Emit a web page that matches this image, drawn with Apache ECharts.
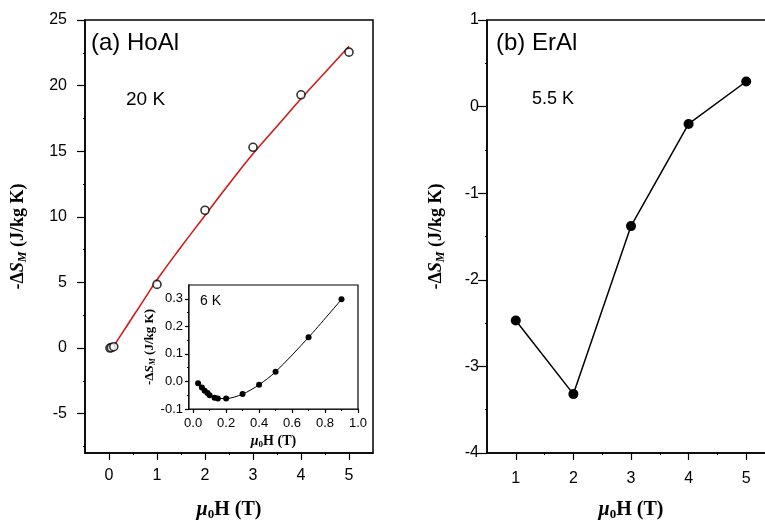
<!DOCTYPE html>
<html>
<head>
<meta charset="utf-8">
<script src="https://cdn.jsdelivr.net/npm/echarts@6/dist/echarts.min.js"></script>
<style>
    html, body { margin: 0; padding: 0; background: #fff; }
    #chart { width: 765px; height: 522px; }
</style>
</head>
<body>
<div id="chart"></div>
<script>
// (a) HoAl, 20 K
let hoX = [0.02, 0.05, 0.1, 1, 2, 3, 4, 5];
let hoY = [0, 0.03, 0.1, 4.85, 10.5, 15.3, 19.3, 22.55];
let fitX = [0.04, 0.25, 0.5, 0.75, 1, 1.5, 2, 2.5, 3, 3.5, 4, 4.5, 5];
let fitY = [-0.2, 1.0, 2.4, 3.8, 5.2, 7.7, 10.1, 12.5, 14.8, 16.9, 19.0, 21.0, 23.0];

// inset, 6 K
let insetX = [0.03, 0.053, 0.07, 0.087, 0.1, 0.13, 0.15, 0.2, 0.3, 0.4, 0.5, 0.7, 0.9];
let insetY = [-0.007, -0.022, -0.034, -0.042, -0.05, -0.059, -0.062, -0.062, -0.046, -0.012, 0.035, 0.16, 0.298];

// (b) ErAl, 5.5 K
let erX = [1, 2, 3, 4, 5];
let erY = [-2.47, -3.32, -1.38, -0.2, 0.29];

// ticks
let hoXTicks = [0, 1, 2, 3, 4, 5];
let hoXMinor = [0.5, 1.5, 2.5, 3.5, 4.5];
let hoYTicks = [-5, 0, 5, 10, 15, 20, 25];
let hoYMinor = [-7.5, -2.5, 2.5, 7.5, 12.5, 17.5, 22.5];
let insetXTicks = [0, 0.2, 0.4, 0.6, 0.8, 1.0];
let insetXMinor = [0.1, 0.3, 0.5, 0.7, 0.9];
let insetYTicks = [-0.1, 0, 0.1, 0.2, 0.3];
let insetYMinor = [-0.05, 0.05, 0.15, 0.25];
let erXTicks = [1, 2, 3, 4, 5];
let erXMinor = [1.5, 2.5, 3.5, 4.5];
let erYTicks = [-4, -3, -2, -1, 0, 1];
let erYMinor = [-3.5, -2.5, -1.5, -0.5, 0.5];

let sans = 'Liberation Sans, Arial, sans-serif';
let serif = 'Liberation Serif, Times New Roman, serif';

let zip = function(xs, ys) {
    return xs.map(function(x, i) { return [x, ys[i]]; });
};

let nameRich = function(size) {
    return {
        b: { fontFamily: serif, fontWeight: 'bold', fontSize: size, color: '#000' },
        bi: { fontFamily: serif, fontWeight: 'bold', fontStyle: 'italic', fontSize: size, color: '#000' },
        sub: { fontFamily: serif, fontWeight: 'bold', fontStyle: 'italic', fontSize: Math.round(size * 0.65), color: '#000', padding: [Math.round(size * 0.5), 0, 0, 0] },
        sub0: { fontFamily: serif, fontWeight: 'bold', fontSize: Math.round(size * 0.65), color: '#000', padding: [Math.round(size * 0.5), 0, 0, 0] }
    };
};

let yName = '{b|-Δ}{bi|S}{sub|M}{b| (J/kg K)}';
let xName = '{bi|μ}{sub0|0}{b|H (T)}';

let mainAxis = function(grid, pos, min, max, ticks, opts) {
    return {
        type: 'value',
        gridIndex: grid,
        position: pos,
        min: min,
        max: max,
        splitLine: { show: false },
        axisLine: { show: true, onZero: false, lineStyle: { color: '#000', width: 1.5 } },
        axisTick: { show: true, customValues: ticks, length: opts.tick, lineStyle: { color: '#000', width: 1.2 } },
        axisLabel: {
            show: true,
            customValues: ticks,
            margin: opts.margin,
            fontFamily: sans,
            fontSize: opts.font,
            color: '#000',
            formatter: opts.formatter
        },
        name: opts.name,
        nameLocation: 'middle',
        nameGap: opts.nameGap,
        nameTextStyle: { rich: nameRich(opts.nameSize) }
    };
};

let minorAxis = function(grid, pos, min, max, ticks, len) {
    return {
        type: 'value',
        gridIndex: grid,
        position: pos,
        min: min,
        max: max,
        splitLine: { show: false },
        axisLine: { show: false, onZero: false },
        axisTick: { show: true, customValues: ticks, length: len, lineStyle: { color: '#000', width: 1 } },
        axisLabel: { show: false }
    };
};

let oneDec = function(v) { return v.toFixed(1); };

let myChart = echarts.init(document.getElementById('chart'), null, { renderer: 'canvas' });

let options = {
    animation: false,
    backgroundColor: '#fff',
    grid: [
        { left: 85, top: 20, width: 288, height: 433, outerBoundsMode: 'none', show: true, borderColor: '#000', borderWidth: 1.5, backgroundColor: 'transparent' },
        { left: 189, top: 285, width: 169, height: 124, outerBoundsMode: 'none', show: true, borderColor: '#000', borderWidth: 1.2, backgroundColor: '#fff', z: 5 },
        { left: 487, top: 20, width: 288, height: 433, outerBoundsMode: 'none', show: true, borderColor: '#000', borderWidth: 1.5, backgroundColor: 'transparent' }
    ],
    xAxis: [
        mainAxis(0, 'bottom', -0.5, 5.5, hoXTicks, { tick: 7, margin: 15, font: 16, name: xName, nameGap: 45, nameSize: 20 }),
        minorAxis(0, 'bottom', -0.5, 5.5, hoXMinor, 2),
        mainAxis(1, 'bottom', -0.025, 1.0, insetXTicks, { tick: 4, margin: 8, font: 13, formatter: oneDec, name: xName, nameGap: 24, nameSize: 14 }),
        minorAxis(1, 'bottom', -0.025, 1.0, insetXMinor, 2),
        mainAxis(2, 'bottom', 0.5, 5.5, erXTicks, { tick: 7, margin: 18, font: 16, name: xName, nameGap: 45, nameSize: 20 }),
        minorAxis(2, 'bottom', 0.5, 5.5, erXMinor, 2)
    ],
    yAxis: [
        mainAxis(0, 'left', -8, 25, hoYTicks, { tick: 8, margin: 18, font: 16, name: yName, nameGap: 56, nameSize: 18 }),
        minorAxis(0, 'left', -8, 25, hoYMinor, 2),
        mainAxis(1, 'left', -0.1, 0.35, insetYTicks, { tick: 4, margin: 6, font: 13, formatter: oneDec, name: yName, nameGap: 27, nameSize: 13 }),
        minorAxis(1, 'left', -0.1, 0.35, insetYMinor, 2),
        mainAxis(2, 'left', -4, 1, erYTicks, { tick: 9, margin: 8, font: 16, name: yName, nameGap: 40, nameSize: 18 }),
        minorAxis(2, 'left', -4, 1, erYMinor, 2)
    ],
    series: [
        {
            type: 'line',
            xAxisIndex: 0,
            yAxisIndex: 0,
            data: zip(fitX, fitY),
            smooth: true,
            showSymbol: false,
            lineStyle: { color: '#d41a1a', width: 1.6 },
            z: 2
        },
        {
            type: 'scatter',
            xAxisIndex: 0,
            yAxisIndex: 0,
            data: zip(hoX, hoY),
            symbol: 'circle',
            symbolSize: 8,
            itemStyle: { color: '#fff', borderColor: '#000', borderWidth: 1.6 },
            z: 3
        },
        {
            type: 'line',
            xAxisIndex: 2,
            yAxisIndex: 2,
            data: zip(insetX, insetY),
            smooth: 0.3,
            symbol: 'circle',
            symbolSize: 6,
            itemStyle: { color: '#000' },
            lineStyle: { color: '#000', width: 1 },
            z: 6
        },
        {
            type: 'line',
            xAxisIndex: 4,
            yAxisIndex: 4,
            data: zip(erX, erY),
            symbol: 'circle',
            symbolSize: 10,
            itemStyle: { color: '#000' },
            lineStyle: { color: '#000', width: 1.5 }
        }
    ],
    graphic: [
        { type: 'text', left: 91, top: 31, style: { text: '(a) HoAl', fontFamily: sans, fontSize: 24, fill: '#000' } },
        { type: 'text', left: 126, top: 90, style: { text: '20 K', fontFamily: sans, fontSize: 19, fill: '#000' } },
        { type: 'text', left: 200, top: 294, z: 10, style: { text: '6 K', fontFamily: sans, fontSize: 14, fill: '#000' } },
        { type: 'text', left: 496, top: 31, style: { text: '(b) ErAl', fontFamily: sans, fontSize: 24, fill: '#000' } },
        { type: 'text', left: 532, top: 90, style: { text: '5.5 K', fontFamily: sans, fontSize: 18, fill: '#000' } }
    ]
};

myChart.setOption(options);

window.onresize = function() {
    myChart.resize();
};
</script>
</body>
</html>
